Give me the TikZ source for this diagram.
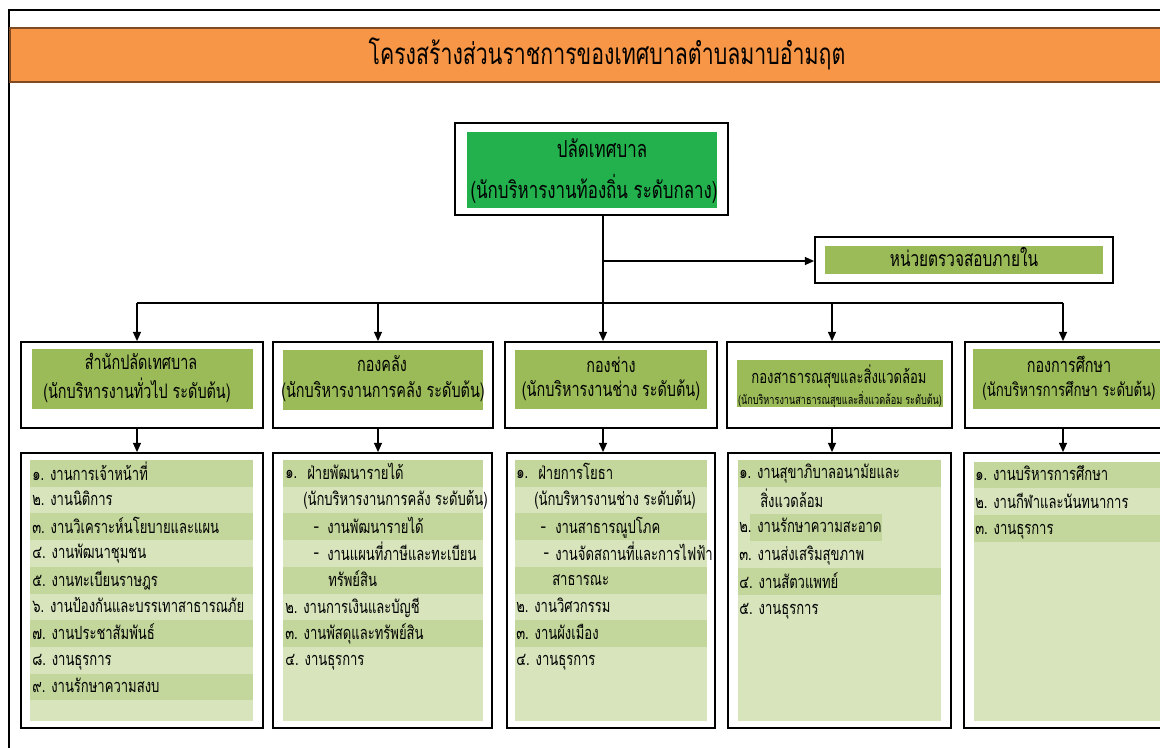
\documentclass[tikz,border=0pt]{standalone}
\usepackage{fontspec}
\newfontfamily\thai[Script=Thai,FakeStretch=0.72]{Loma}
\newfontfamily\lat{Liberation Sans}
\usetikzlibrary{arrows.meta,fit}
\definecolor{orangebar}{HTML}{F79646}
\definecolor{orangeline}{HTML}{7F4A22}
\definecolor{topgreen}{HTML}{22B14C}
\definecolor{olive}{HTML}{9BBB59}
\definecolor{rowdark}{HTML}{C3D69B}
\definecolor{rowlight}{HTML}{D7E4BC}
\newcommand\rowtxt[4]{\node[it] (#1) at (#2,#3) {#4};}
\newcommand\dsh{{\lat -}}
\begin{document}
\begin{tikzpicture}[x=0.75pt,y=-0.75pt,
  box/.style={draw=black, line width=1.3pt, fill=white, inner sep=0pt},
  fillbox/.style={inner sep=0pt, draw=none},
  conn/.style={draw=black, line width=1.1pt},
  arr/.style={conn, -{Triangle[length=7pt,width=6pt]}},
  hd/.style={font=\thai\fontsize{15}{18}\selectfont, text=black, inner sep=0pt, execute at begin node=\strut},
  it/.style={font=\thai\fontsize{13.6}{16}\selectfont, anchor=west, inner sep=0pt, text=black, yshift=-1.2pt, execute at begin node=\strut},
]
\useasboundingbox (0,0) rectangle (1160,747);
\clip (0,0) rectangle (1160,747);
\fill[white] (0,0) rectangle (1160,747);
% outer frame
\draw[line width=0.9pt] (9,760) -- (9,10) -- (1175,10);
% title
\node[fillbox, fit={(10,28)(1180,82)}, fill=orangebar, draw=orangeline, line width=1pt] (titlebar) {};
\node[font=\thai\fontsize{22.2}{25}\selectfont, inner sep=0pt, execute at begin node=\strut] (title) at (607,56) {โครงสร้างส่วนราชการของเทศบาลตำบลมาบอำมฤต};

% top box
\node[box, fit={(455,123)(728,215)}] (top) {};
\node[fillbox, fill=topgreen, fit={(467,132)(717,208)}] (topin) {};
\node[hd, font=\thai\fontsize{17.6}{20}\selectfont] (topl1) at (602,152) {ปลัดเทศบาล};
\node[hd, font=\thai\fontsize{17.6}{20}\selectfont] (topl2) at (594,190) {(นักบริหารงานท้องถิ่น ระดับกลาง)};

% audit box
\node[box, fit={(815,237)(1113,283)}] (audit) {};
\node[fillbox, fill=olive, fit={(825,246)(1103,274)}] (auditin) {};
\node[hd, font=\thai\fontsize{16}{19}\selectfont] (auditl) at (964,261) {หน่วยตรวจสอบภายใน};

% department boxes
\node[box, fit={(21,342)(263,428)}] (d1) {};
\node[fillbox, fill=olive, fit={(32,349)(253,409)}] (d1in) {};
\node[hd] (d1a) at (141,365) {สำนักปลัดเทศบาล};
\node[hd] (d1b) at (137,392) {(นักบริหารงานทั่วไป ระดับต้น)};

\node[box, fit={(273,342)(493,428)}] (d2) {};
\node[fillbox, fill=olive, fit={(283,350)(483,410)}] (d2in) {};
\node[hd] (d2a) at (382,367) {กองคลัง};
\node[hd] (d2b) at (383,393) {(นักบริหารงานการคลัง ระดับต้น)};

\node[box, fit={(505,342)(717,428)}] (d3) {};
\node[fillbox, fill=olive, fit={(515,350)(707,409)}] (d3in) {};
\node[hd] (d3a) at (611,368) {กองช่าง};
\node[hd] (d3b) at (611,392) {(นักบริหารงานช่าง ระดับต้น)};

\node[box, fit={(727,342)(952,428)}] (d4) {};
\node[fillbox, fill=olive, fit={(737,360)(943,407)}] (d4in) {};
\node[hd, font=\thai\fontsize{13.6}{16}\selectfont] (d4a) at (839,377) {กองสาธารณสุขและสิ่งแวดล้อม};
\node[hd, font=\thai\fontsize{9.5}{11}\selectfont] (d4b) at (840,400) {(นักบริหารงานสาธารณสุขและสิ่งแวดล้อม ระดับต้น)};

\node[box, fit={(965,342)(1180,428)}] (d5) {};
\node[fillbox, fill=olive, fit={(973,349)(1180,409)}] (d5in) {};
\node[hd] (d5a) at (1069,368) {กองการศึกษา};
\node[hd, font=\thai\fontsize{13.8}{16}\selectfont] (d5b) at (1069,392) {(นักบริหารการศึกษา ระดับต้น)};

% lower boxes
\node[box, fit={(21,453)(263,728)}] (l1) {};
\node[box, fit={(273,453)(492,728)}] (l2) {};
\node[box, fit={(507,453)(715,728)}] (l3) {};
\node[box, fit={(728,453)(951,728)}] (l4) {};
\node[box, fit={(964,453)(1180,728)}] (l5) {};

% stripes
\fill[rowlight] (30,460) rectangle (253,721);
\foreach \k in {0,2,4,6,8} \fill[rowdark] (30,{460+26.7*\k}) rectangle (253,{460+26.7*(\k+1)});
\fill[rowlight] (283,460) rectangle (483,721);
\foreach \k in {0,2,4,6} \fill[rowdark] (283,{460+26.7*\k}) rectangle (483,{460+26.7*(\k+1)});
\fill[rowlight] (515,460) rectangle (707,721);
\foreach \k in {0,2,4,6} \fill[rowdark] (515,{460+26.7*\k}) rectangle (707,{460+26.7*(\k+1)});
\fill[rowlight] (738,460) rectangle (941,721);
\fill[rowdark] (738,460) rectangle (941,487);
\fill[rowdark] (750,514) rectangle (882,541);
\fill[rowdark] (738,568) rectangle (941,595);
\fill[rowlight] (974,462) rectangle (1180,721);
\fill[rowdark] (974,462) rectangle (1180,488);
\fill[rowdark] (974,515) rectangle (1180,542);

% box 1 texts
\rowtxt{a1}{32}{473}{๑. งานการเจ้าหน้าที่}
\rowtxt{a2}{32}{500}{๒. งานนิติการ}
\rowtxt{a3}{32}{527}{๓. งานวิเคราะห์นโยบายและแผน}
\rowtxt{a4}{32}{553}{๔. งานพัฒนาชุมชน}
\rowtxt{a5}{32}{580}{๕. งานทะเบียนราษฎร}
\rowtxt{a6}{32}{607}{๖. งานป้องกันและบรรเทาสาธารณภัย}
\rowtxt{a7}{32}{633}{๗. งานประชาสัมพันธ์}
\rowtxt{a8}{32}{660}{๘. งานธุรการ}
\rowtxt{a9}{32}{687}{๙. งานรักษาความสงบ}

% box 2 texts
\rowtxt{b1n}{285}{473}{๑.}
\rowtxt{b1}{307}{473}{ฝ่ายพัฒนารายได้}
\rowtxt{b2}{303}{500}{(นักบริหารงานการคลัง ระดับต้น)}
\rowtxt{b3d}{313}{527}{\dsh}
\rowtxt{b3}{327}{527}{งานพัฒนารายได้}
\rowtxt{b4d}{313}{553}{\dsh}
\rowtxt{b4}{327}{553}{งานแผนที่ภาษีและทะเบียน}
\rowtxt{b5}{328}{580}{ทรัพย์สิน}
\rowtxt{b6}{285}{607}{๒. งานการเงินและบัญชี}
\rowtxt{b7}{285}{633}{๓. งานพัสดุและทรัพย์สิน}
\rowtxt{b8}{285}{660}{๔. งานธุรการ}

% box 3 texts
\rowtxt{c1n}{516}{473}{๑.}
\rowtxt{c1}{538}{473}{ฝ่ายการโยธา}
\rowtxt{c2}{534}{500}{(นักบริหารงานช่าง ระดับต้น)}
\rowtxt{c3d}{540}{527}{\dsh}
\rowtxt{c3}{555}{527}{งานสาธารณูปโภค}
\rowtxt{c4d}{543}{553}{\dsh}
\rowtxt{c4}{555}{553}{งานจัดสถานที่และการไฟฟ้า}
\rowtxt{c5}{552}{580}{สาธารณะ}
\rowtxt{c6}{516}{607}{๒. งานวิศวกรรม}
\rowtxt{c7}{516}{633}{๓. งานผังเมือง}
\rowtxt{c8}{516}{660}{๔. งานธุรการ}

% box 4 texts
\rowtxt{e1}{739}{473}{๑. งานสุขาภิบาลอนามัยและ}
\rowtxt{e2}{760}{500}{สิ่งแวดล้อม}
\rowtxt{e3}{739}{527}{๒. งานรักษาความสะอาด}
\rowtxt{e4}{739}{555}{๓. งานส่งเสริมสุขภาพ}
\rowtxt{e5}{739}{582}{๔. งานสัตวแพทย์}
\rowtxt{e6}{739}{609}{๕. งานธุรการ}

% box 5 texts
\rowtxt{f1}{975}{475}{๑. งานบริหารการศึกษา}
\rowtxt{f2}{975}{502}{๒. งานกีฬาและนันทนาการ}
\rowtxt{f3}{975}{529}{๓. งานธุรการ}

% connectors
\coordinate (b1) at (137,303);
\coordinate (b2) at (378,303);
\coordinate (b3) at (603,303);
\coordinate (b4) at (832,303);
\coordinate (b5) at (1063,303);
\coordinate (br) at (603,261);
\draw[conn] (top.south -| b3) -- (b3);
\draw[arr] (br) -- (audit.west |- br);
\draw[conn] (b1) -- (b5);
\foreach \i in {1,...,5} {
  \draw[arr] (b\i) -- (b\i |- d\i.north);
  \draw[arr] (d\i.south -| b\i) -- (b\i |- l\i.north);
}
\end{tikzpicture}
\end{document}
